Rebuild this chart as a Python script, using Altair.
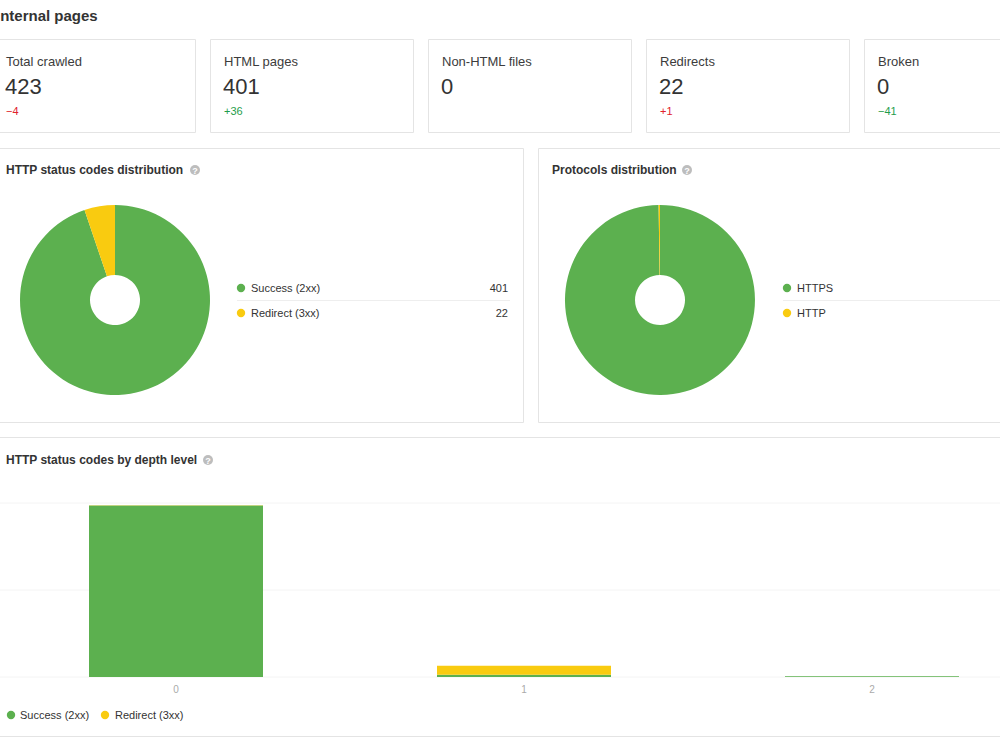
import altair as alt
import pandas as pd

# ---- data -------------------------------------------------------------
card_titles = ["Total crawled", "HTML pages", "Non-HTML files", "Redirects", "Broken"]
card_values = ["423", "401", "0", "22", "0"]
card_deltas = ["\u22124", "+36", "", "+1", "\u221241"]
delta_is_good = [False, True, None, False, True]

status_labels = ["Success (2xx)", "Redirect (3xx)"]
status_counts = [401, 22]

protocol_labels = ["HTTPS", "HTTP"]
protocol_counts = [422, 1]

depth_levels = ["0", "1", "2"]
depth_success = [394, 5, 2]
depth_redirect = [1, 21, 0]
depth_grid = [0, 200, 400]

# ---- styling ----------------------------------------------------------
FONT = "Liberation Sans"
GREEN = "#5cb04f"
YELLOW = "#f9cb10"
TEXT = "#333333"
MUTED = "#aaaaaa"
BORDER = "#e4e4e4"
UP_GOOD = "#1f9d4c"
DOWN_BAD = "#e0222c"

color_scale = alt.Scale(
    domain=status_labels + protocol_labels,
    range=[GREEN, YELLOW, GREEN, YELLOW],
)
depth_x = alt.Scale(domain=depth_levels, range=[2, 1046], paddingInner=0.5, paddingOuter=0.25)
depth_y = alt.Scale(domain=[0, 400], range=[677, 503])

one = pd.DataFrame({"k": [0]})


def frame(x0, y0, x1, y1):
    return alt.Chart(one).mark_rect(fill="white", stroke=BORDER, strokeWidth=1).encode(
        x=alt.value(x0), x2=alt.value(x1), y=alt.value(y0), y2=alt.value(y1)
    )


def text(t, x, y, size, color=TEXT, weight="normal", align="left"):
    return alt.Chart(pd.DataFrame({"t": [t]})).mark_text(
        font=FONT, fontSize=size, fontWeight=weight, color=color,
        align=align, baseline="alphabetic",
    ).encode(text="t:N", x=alt.value(x), y=alt.value(y))


def hline(x0, x1, y, color="#eeeeee"):
    return alt.Chart(one).mark_rule(color=color, strokeWidth=1).encode(
        x=alt.value(x0), x2=alt.value(x1), y=alt.value(y)
    )


def help_icon(x, y):
    dot = alt.Chart(one).mark_circle(size=100, color="#bdbdbd", opacity=1).encode(
        x=alt.value(x), y=alt.value(y)
    )
    mark = alt.Chart(pd.DataFrame({"t": ["?"]})).mark_text(
        font=FONT, fontSize=9, fontWeight="bold", color="white", baseline="middle"
    ).encode(text="t:N", x=alt.value(x), y=alt.value(y + 0.5))
    return [dot, mark]


def legend_dot(label, x, y):
    return alt.Chart(pd.DataFrame({"label": [label]})).mark_circle(size=70, opacity=1).encode(
        x=alt.value(x), y=alt.value(y),
        color=alt.Color("label:N", scale=color_scale, legend=None),
    )


layers = []

# ---- page heading and summary cards -----------------------------------
layers.append(text("Internal pages", -4, 21, 15, weight="bold"))

for i, (title, value, delta, good) in enumerate(
    zip(card_titles, card_values, card_deltas, delta_is_good)
):
    left = -8 + 218 * i
    layers.append(frame(left + 0.5, 39.5, left + 203.5, 132.5))
    layers.append(text(title, left + 14, 66, 13, color="#3c3c3c"))
    layers.append(text(value, left + 13, 94, 22, color="#333333"))
    if delta:
        layers.append(text(delta, left + 14, 115, 11, color=UP_GOOD if good else DOWN_BAD))

# ---- panel frames -----------------------------------------------------
layers.append(frame(-10, 148.5, 523.5, 422.5))
layers.append(frame(538.5, 148.5, 1010, 422.5))
layers.append(frame(-10, 437.5, 1010, 736.5))

# ---- HTTP status codes distribution -----------------------------------
layers.append(text("HTTP status codes distribution", 6, 174, 12, weight="bold"))
layers += help_icon(195, 170)

status_df = pd.DataFrame(
    {"label": status_labels, "count": status_counts, "idx": range(len(status_labels))}
)
layers.append(
    alt.Chart(status_df).mark_arc(outerRadius=95, innerRadius=25).encode(
        theta=alt.Theta("count:Q", stack=True),
        color=alt.Color("label:N", scale=color_scale, legend=None),
        order=alt.Order("idx:Q"),
        x=alt.value(115),
        y=alt.value(300),
    )
)
for i, (lab, cnt) in enumerate(zip(status_labels, status_counts)):
    y = 288 + 25 * i
    layers.append(legend_dot(lab, 241, y))
    layers.append(text(lab, 251, y + 4, 11))
    layers.append(text(str(cnt), 508, y + 4, 11, align="right"))
layers.append(hline(237, 510, 300.5))

# ---- Protocols distribution -------------------------------------------
layers.append(text("Protocols distribution", 552, 174, 12, weight="bold"))
layers += help_icon(687, 170)

protocol_df = pd.DataFrame(
    {"label": protocol_labels, "count": protocol_counts, "idx": range(len(protocol_labels))}
)
layers.append(
    alt.Chart(protocol_df).mark_arc(outerRadius=95, innerRadius=25).encode(
        theta=alt.Theta("count:Q", stack=True),
        color=alt.Color("label:N", scale=color_scale, legend=None),
        order=alt.Order("idx:Q"),
        x=alt.value(660),
        y=alt.value(300),
    )
)
for i, lab in enumerate(protocol_labels):
    y = 288 + 25 * i
    layers.append(legend_dot(lab, 787, y))
    layers.append(text(lab, 797, y + 4, 11))
layers.append(hline(783, 1000, 300.5))

# ---- HTTP status codes by depth level ---------------------------------
layers.append(text("HTTP status codes by depth level", 6, 464, 12, weight="bold"))
layers += help_icon(208, 460)

grid_df = pd.DataFrame({"v": depth_grid})
layers.append(
    alt.Chart(grid_df).mark_rule(color="#f4f4f4", strokeWidth=1).encode(
        y=alt.Y("v:Q", scale=depth_y, axis=None),
        x=alt.value(0),
        x2=alt.value(1000),
    )
)

depth_rows = []
for d, s, r in zip(depth_levels, depth_success, depth_redirect):
    depth_rows.append({"depth": d, "label": status_labels[0], "count": s, "idx": 0})
    depth_rows.append({"depth": d, "label": status_labels[1], "count": r, "idx": 1})
depth_df = pd.DataFrame(depth_rows)

layers.append(
    alt.Chart(depth_df).mark_bar().encode(
        x=alt.X("depth:N", scale=depth_x, axis=None),
        y=alt.Y("count:Q", stack="zero", scale=depth_y, axis=None),
        color=alt.Color("label:N", scale=color_scale, legend=None),
        order=alt.Order("idx:Q"),
    )
)
layers.append(
    alt.Chart(pd.DataFrame({"depth": depth_levels})).mark_text(
        font=FONT, fontSize=10, color=MUTED, baseline="alphabetic"
    ).encode(
        x=alt.X("depth:N", scale=depth_x, axis=None),
        y=alt.value(693),
        text="depth:N",
    )
)

# bottom legend
layers.append(legend_dot(status_labels[0], 11, 715))
layers.append(text(status_labels[0], 20, 719, 11))
layers.append(legend_dot(status_labels[1], 105, 715))
layers.append(text(status_labels[1], 115, 719, 11))

chart = (
    alt.layer(*layers)
    .resolve_scale(theta="independent")
    .properties(
        width=1000,
        height=750,
        padding=0,
        background="white",
        autosize=alt.AutoSizeParams(type="none"),
    )
    .configure_view(strokeWidth=0)
)

chart.save("out.html", embed_options={"renderer": "svg", "actions": False})
